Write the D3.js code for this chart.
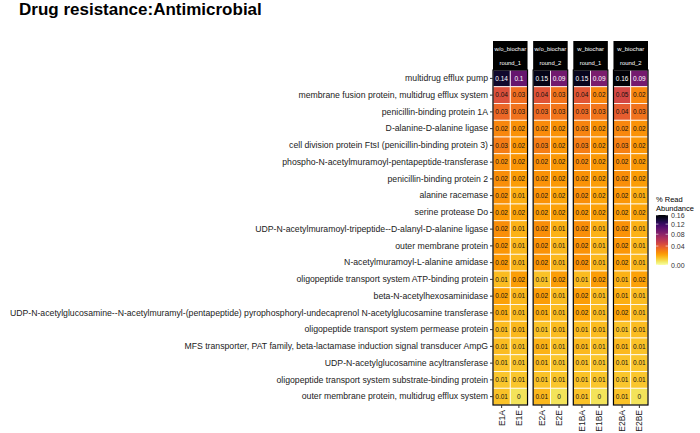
<!DOCTYPE html>
<html>
<head>
<meta charset="utf-8">
<script src="https://cdn.jsdelivr.net/npm/d3@7"></script>
<style>
  body { margin: 0; background: #fff; }
  svg { font-family: "Liberation Sans", Arial, sans-serif; }
</style>
</head>
<body>
<div id="chart"></div>
<script>
// rows of the heatmap, top to bottom
const genes = [
  "multidrug efflux pump",
  "membrane fusion protein, multidrug efflux system",
  "penicillin-binding protein 1A",
  "D-alanine-D-alanine ligase",
  "cell division protein FtsI (penicillin-binding protein 3)",
  "phospho-N-acetylmuramoyl-pentapeptide-transferase",
  "penicillin-binding protein 2",
  "alanine racemase",
  "serine protease Do",
  "UDP-N-acetylmuramoyl-tripeptide--D-alanyl-D-alanine ligase",
  "outer membrane protein",
  "N-acetylmuramoyl-L-alanine amidase",
  "oligopeptide transport system ATP-binding protein",
  "beta-N-acetylhexosaminidase",
  "UDP-N-acetylglucosamine--N-acetylmuramyl-(pentapeptide) pyrophosphoryl-undecaprenol N-acetylglucosamine transferase",
  "oligopeptide transport system permease protein",
  "MFS transporter, PAT family, beta-lactamase induction signal transducer AmpG",
  "UDP-N-acetylglucosamine acyltransferase",
  "oligopeptide transport system substrate-binding protein",
  "outer membrane protein, multidrug efflux system"
];
const samples = ["E1A", "E1E", "E2A", "E2E", "E1BA", "E1BE", "E2BA", "E2BE"];
const sampleFacet = [0, 0, 1, 1, 2, 2, 3, 3];
const facetTreatment = ["w/o_biochar", "w/o_biochar", "w_biochar", "w_biochar"];
const facetRound = ["round_1", "round_2", "round_1", "round_2"];
// % read abundance, one row per gene, columns follow samples
const abundance = [
  [0.142, 0.099, 0.151, 0.093, 0.148, 0.089, 0.158, 0.092],
  [0.044, 0.032, 0.042, 0.030, 0.041, 0.024, 0.048, 0.024],
  [0.034, 0.030, 0.033, 0.029, 0.033, 0.029, 0.038, 0.030],
  [0.024, 0.021, 0.023, 0.021, 0.025, 0.021, 0.024, 0.021],
  [0.027, 0.020, 0.027, 0.020, 0.027, 0.020, 0.026, 0.020],
  [0.022, 0.020, 0.022, 0.019, 0.023, 0.019, 0.022, 0.019],
  [0.022, 0.018, 0.021, 0.019, 0.021, 0.018, 0.022, 0.018],
  [0.021, 0.014, 0.021, 0.016, 0.022, 0.016, 0.020, 0.014],
  [0.019, 0.016, 0.018, 0.017, 0.019, 0.017, 0.018, 0.016],
  [0.022, 0.013, 0.022, 0.013, 0.022, 0.013, 0.021, 0.013],
  [0.020, 0.012, 0.021, 0.012, 0.021, 0.012, 0.020, 0.012],
  [0.019, 0.012, 0.020, 0.012, 0.021, 0.012, 0.017, 0.012],
  [0.011, 0.018, 0.010, 0.018, 0.011, 0.018, 0.013, 0.017],
  [0.017, 0.012, 0.018, 0.011, 0.018, 0.011, 0.014, 0.011],
  [0.014, 0.011, 0.014, 0.011, 0.016, 0.011, 0.016, 0.011],
  [0.011, 0.012, 0.010, 0.011, 0.011, 0.011, 0.010, 0.011],
  [0.011, 0.010, 0.013, 0.010, 0.012, 0.010, 0.012, 0.010],
  [0.010, 0.009, 0.011, 0.009, 0.010, 0.009, 0.010, 0.009],
  [0.009, 0.009, 0.010, 0.009, 0.010, 0.009, 0.009, 0.009],
  [0.010, 0.004, 0.012, 0.004, 0.010, 0.004, 0.010, 0.004]
];
const legendTicks = [0, 0.04, 0.08, 0.12, 0.16];

const W = 700, H = 433;
const PANEL = { TOP: 70, BOTTOM: 405, LEFT: 493, RIGHT: 648 };
const STRIP_TOP = 41;

const svg = d3.select("#chart").append("svg")
  .attr("width", W).attr("height", H);

svg.append("text")
  .attr("x", 19).attr("y", 15)
  .attr("font-size", 17).attr("font-weight", "bold")
  .attr("fill", "#000")
  .text("Drug resistance:Antimicrobial");

const y = d3.scaleBand().domain(genes).range([PANEL.TOP, PANEL.BOTTOM]);
const facets = d3.range(facetTreatment.length);
const fx = d3.scaleBand().domain(facets).range([PANEL.LEFT, PANEL.RIGHT]).paddingInner(0.14);

// reversed inferno on a compressed (power) scale
const color = d3.scaleSequentialPow(t => d3.interpolateInferno(1 - t))
  .exponent(0.7).domain([0, 0.16]);

const fmt = v => String(Math.round(v * 100) / 100);

// row labels + ticks
const yAxis = svg.append("g")
  .attr("transform", "translate(" + PANEL.LEFT + ",0)")
  .call(d3.axisLeft(y).tickSize(3).tickPadding(2));
yAxis.select(".domain").remove();
yAxis.selectAll("line").attr("stroke", "#333");
yAxis.selectAll("text").attr("font-size", 8.7).attr("fill", "#222").attr("font-family", null);

facets.forEach(f => {
  const cols = samples.filter((s, i) => sampleFacet[i] === f);
  const x = d3.scaleBand().domain(cols).range([0, fx.bandwidth()]);
  const g = svg.append("g").attr("transform", "translate(" + fx(f) + ",0)");

  const cells = [];
  genes.forEach((gene, r) => {
    cols.forEach(s => {
      cells.push({ gene: gene, sample: s, v: abundance[r][samples.indexOf(s)] });
    });
  });

  g.selectAll("rect.cell").data(cells).enter().append("rect")
    .attr("class", "cell")
    .attr("x", d => x(d.sample))
    .attr("y", d => y(d.gene))
    .attr("width", x.bandwidth())
    .attr("height", y.bandwidth())
    .attr("fill", d => color(d.v))
    .attr("stroke", "#fff")
    .attr("stroke-width", 0.8);

  g.selectAll("text.val").data(cells).enter().append("text")
    .attr("class", "val")
    .attr("x", d => x(d.sample) + x.bandwidth() / 2)
    .attr("y", d => y(d.gene) + y.bandwidth() / 2)
    .attr("dy", "0.35em")
    .attr("text-anchor", "middle")
    .attr("font-size", 6.5)
    .attr("fill", d => d.v > 0.06 ? "#fff" : "#111")
    .text(d => fmt(d.v));

  // panel border
  g.append("rect")
    .attr("x", 0).attr("y", PANEL.TOP)
    .attr("width", fx.bandwidth()).attr("height", PANEL.BOTTOM - PANEL.TOP)
    .attr("fill", "none").attr("stroke", "#000").attr("stroke-width", 1.2);

  // strip
  g.append("rect")
    .attr("x", 0).attr("y", STRIP_TOP)
    .attr("width", fx.bandwidth()).attr("height", PANEL.TOP - STRIP_TOP)
    .attr("fill", "#000");
  g.append("text")
    .attr("x", fx.bandwidth() / 2).attr("y", STRIP_TOP + 10)
    .attr("text-anchor", "middle").attr("font-size", 5.9).attr("fill", "#fff")
    .text(facetTreatment[f]);
  g.append("text")
    .attr("x", fx.bandwidth() / 2).attr("y", STRIP_TOP + 24)
    .attr("text-anchor", "middle").attr("font-size", 5.9).attr("fill", "#fff")
    .text(facetRound[f]);

  // x axis
  const xAxis = g.append("g")
    .attr("transform", "translate(0," + PANEL.BOTTOM + ")")
    .call(d3.axisBottom(x).tickSize(3));
  xAxis.select(".domain").remove();
  xAxis.selectAll("line").attr("stroke", "#333");
  xAxis.selectAll("text")
    .attr("font-size", 8.5).attr("fill", "#222").attr("font-family", null)
    .attr("transform", "rotate(-90)")
    .attr("text-anchor", "end")
    .attr("x", -5).attr("y", 0).attr("dy", "0.35em");
});

// legend
const LEG = { X: 656, TOP: 215, BOTTOM: 265, W: 12 };
const legendY = d3.scalePow().exponent(0.7).domain([0, 0.16]).range([LEG.BOTTOM, LEG.TOP]);

const lg = svg.append("g");
lg.append("text").attr("x", LEG.X).attr("y", 202).attr("font-size", 7.5).attr("fill", "#000").text("% Read");
lg.append("text").attr("x", LEG.X).attr("y", 211).attr("font-size", 7.5).attr("fill", "#000").text("Abundance");

const grad = svg.append("defs").append("linearGradient")
  .attr("id", "legend-grad")
  .attr("x1", 0).attr("y1", 1).attr("x2", 0).attr("y2", 0);
d3.range(0, 1.0001, 0.05).forEach(t => {
  grad.append("stop")
    .attr("offset", t)
    .attr("stop-color", color(legendY.invert(LEG.BOTTOM - t * (LEG.BOTTOM - LEG.TOP))));
});
lg.append("rect")
  .attr("x", LEG.X).attr("y", LEG.TOP)
  .attr("width", LEG.W).attr("height", LEG.BOTTOM - LEG.TOP)
  .attr("fill", "url(#legend-grad)");

const legAxis = lg.append("g")
  .attr("transform", "translate(" + (LEG.X + LEG.W) + ",0)")
  .call(d3.axisRight(legendY).tickValues(legendTicks).tickFormat(d3.format(".2f")).tickSize(0).tickPadding(3));
legAxis.select(".domain").remove();
legAxis.selectAll("text").attr("font-size", 7).attr("fill", "#333").attr("font-family", null);
legendTicks.forEach(t => {
  lg.append("line").attr("x1", LEG.X).attr("x2", LEG.X + 2.4)
    .attr("y1", legendY(t)).attr("y2", legendY(t)).attr("stroke", "#fff").attr("stroke-width", 0.6);
  lg.append("line").attr("x1", LEG.X + LEG.W - 2.4).attr("x2", LEG.X + LEG.W)
    .attr("y1", legendY(t)).attr("y2", legendY(t)).attr("stroke", "#fff").attr("stroke-width", 0.6);
});
</script>
</body>
</html>
